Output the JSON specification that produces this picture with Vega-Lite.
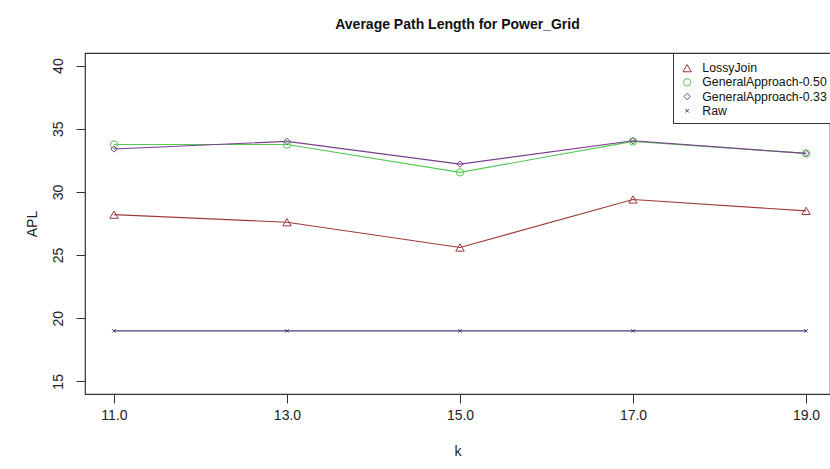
{
  "$schema": "https://vega.github.io/schema/vega-lite/v6.json",
  "width": 745,
  "height": 341,
  "autosize": {"type": "none"},
  "padding": {"left": 85, "top": 53, "right": 0, "bottom": 75},
  "background": "white",
  "config": {
    "font": "Liberation Sans",
    "view": {"stroke": "#333333", "strokeWidth": 1.2},
    "axis": {"grid": false, "domain": false, "tickColor": "#333333", "tickSize": 9, "labelFontSize": 14, "labelColor": "#222222", "titleFontSize": 14, "titleFontWeight": "normal", "titleColor": "#222222"}
  },
  "title": {"text": "Average Path Length for Power_Grid", "fontSize": 14, "fontWeight": "bold", "color": "#111111", "offset": 21, "anchor": "middle"},
  "data": {
    "values": [
      {"k": 11, "series": "LossyJoin", "apl": 28.2},
      {"k": 13, "series": "LossyJoin", "apl": 27.6},
      {"k": 15, "series": "LossyJoin", "apl": 25.6},
      {"k": 17, "series": "LossyJoin", "apl": 29.4},
      {"k": 19, "series": "LossyJoin", "apl": 28.5},
      {"k": 11, "series": "GeneralApproach-0.50", "apl": 33.75},
      {"k": 13, "series": "GeneralApproach-0.50", "apl": 33.75},
      {"k": 15, "series": "GeneralApproach-0.50", "apl": 31.55},
      {"k": 17, "series": "GeneralApproach-0.50", "apl": 34.0},
      {"k": 19, "series": "GeneralApproach-0.50", "apl": 33.05},
      {"k": 11, "series": "GeneralApproach-0.33", "apl": 33.4},
      {"k": 13, "series": "GeneralApproach-0.33", "apl": 34.0},
      {"k": 15, "series": "GeneralApproach-0.33", "apl": 32.2},
      {"k": 17, "series": "GeneralApproach-0.33", "apl": 34.05},
      {"k": 19, "series": "GeneralApproach-0.33", "apl": 33.05},
      {"k": 11, "series": "Raw", "apl": 19.0},
      {"k": 13, "series": "Raw", "apl": 19.0},
      {"k": 15, "series": "Raw", "apl": 19.0},
      {"k": 17, "series": "Raw", "apl": 19.0},
      {"k": 19, "series": "Raw", "apl": 19.0}
    ]
  },
  "encoding": {
    "x": {"field": "k", "type": "quantitative", "scale": {"domain": [10.665, 19.277], "nice": false, "zero": false},
      "axis": {"values": [11, 13, 15, 17, 19], "format": ".1f", "labelPadding": 5, "title": "k", "titlePadding": 22}},
    "y": {"field": "apl", "type": "quantitative", "scale": {"domain": [14, 41], "nice": false, "zero": false},
      "axis": {"values": [15, 20, 25, 30, 35, 40], "labelAngle": 270, "labelAlign": "center", "labelBaseline": "bottom", "labelPadding": 11, "title": "APL", "titlePadding": 12}},
    "color": {"field": "series", "type": "nominal",
      "scale": {"domain": ["LossyJoin", "GeneralApproach-0.50", "GeneralApproach-0.33", "Raw"], "range": ["#A03A3A", "#55C855", "#7A3F8F", "#40407F"]},
      "legend": {"title": " ", "titleFontSize": 4, "titlePadding": 0, "orient": "none", "legendX": 588, "legendY": 0, "labelFontSize": 12.3, "labelColor": "#111111", "strokeColor": "#333333", "fillColor": "white", "padding": 5, "symbolOffset": 3, "symbolSize": 50, "symbolStrokeWidth": 1, "labelOffset": 9, "rowPadding": 1.2}}
  },
  "layer": [
    {"mark": {"type": "line", "strokeWidth": 1.1}, "encoding": {"detail": {"field": "series"}}},
    {"mark": {"type": "point", "filled": false, "strokeWidth": 1, "opacity": 1},
      "encoding": {
        "shape": {"field": "series", "type": "nominal",
          "scale": {"domain": ["LossyJoin", "GeneralApproach-0.50", "GeneralApproach-0.33", "Raw"], "range": ["triangle-up", "circle", "diamond", "M-0.7,-0.7L0.7,0.7M-0.7,0.7L0.7,-0.7"]}},
        "size": {"field": "series", "type": "nominal", "legend": null,
          "scale": {"domain": ["LossyJoin", "GeneralApproach-0.50", "GeneralApproach-0.33", "Raw"], "range": [70, 25, 80, 60]}}
      }
    }
  ]
}
